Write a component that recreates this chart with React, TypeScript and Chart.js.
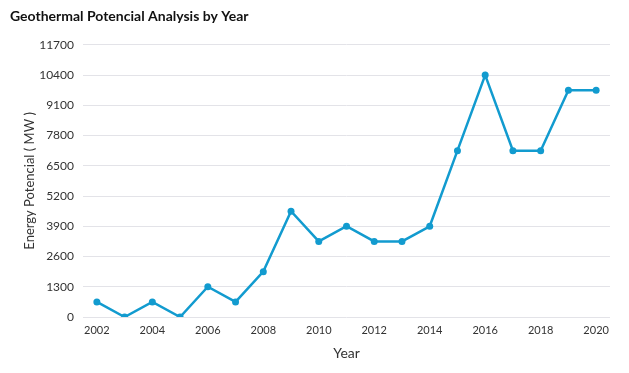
import React, { useEffect, useRef } from "react";
import { Chart, registerables } from "chart.js";

Chart.register(...registerables);

const years = ["2002","2003","2004","2005","2006","2007","2008","2009","2010","2011","2012","2013","2014","2015","2016","2017","2018","2019","2020"];
const potential = [650, 0, 650, 0, 1300, 650, 1950, 4550, 3250, 3900, 3250, 3250, 3900, 7150, 10400, 7150, 7150, 9750, 9750];
const yMin = 0;
const yMax = 11700;
const yStep = 1300;
const xTickLabels = ["2002","2004","2006","2008","2010","2012","2014","2016","2018","2020"];

const FONT = "Lato, 'Open Sans', sans-serif";
const LINE = "#129BCF";

export default function App() {
  const ref = useRef<HTMLCanvasElement | null>(null);
  useEffect(() => {
    document.body.style.margin = "0";
    const ctx = ref.current!;
    const chart = new Chart(ctx, {
      type: "line",
      data: {
        labels: years,
        datasets: [
          {
            label: "Energy Potencial",
            data: potential,
            borderColor: LINE,
            backgroundColor: LINE,
            borderWidth: 2.5,
            pointRadius: 3.5,
            pointBackgroundColor: LINE,
            pointBorderColor: LINE,
            pointBorderWidth: 0,
            tension: 0,
          },
        ],
      },
      options: {
        animation: false,
        responsive: false,
        maintainAspectRatio: false,
        layout: { padding: { left: 10, right: 19, top: 0, bottom: 0 } },
        plugins: {
          legend: { display: false },
          tooltip: { enabled: false },
          title: {
            display: true,
            text: "Geothermal Potencial Analysis by Year",
            align: "start",
            color: "#111",
            font: { family: FONT, size: 14, weight: "bold" },
            padding: { top: 8, bottom: 20 },
          },
        },
        scales: {
          x: {
            offset: true,
            grid: { display: false, drawTicks: false },
            border: { display: false },
            ticks: {
              color: "#333",
              font: { family: FONT, size: 11 },
              padding: 7,
              autoSkip: false,
              maxRotation: 0,
              callback: function (this: any, value: any, index: number) {
                const lab = years[index];
                return xTickLabels.includes(lab) ? lab : "";
              },
            },
            title: {
              display: true,
              text: "Year",
              color: "#333",
              font: { family: FONT, size: 14 },
              padding: { top: 0, bottom: 11 },
            },
            afterFit: (s: any) => {
              s.height = 56;
            },
          },
          y: {
            min: yMin,
            max: yMax,
            grid: { color: "#e3e3e8", lineWidth: 1, drawTicks: false },
            border: { display: false },
            ticks: {
              stepSize: yStep,
              color: "#333",
              font: { family: FONT, size: 12 },
              padding: 9,
              callback: (v: any) => String(v),
            },
            title: {
              display: true,
              text: "Energy Potencial ( MW )",
              color: "#333",
              font: { family: FONT, size: 13 },
              padding: { top: 12, bottom: 0 },
            },
            afterFit: (s: any) => {
              s.width = 73;
            },
          },
        },
      },
    });
    return () => chart.destroy();
  }, []);
  return (
    <div style={{ width: 629, height: 373 }}>
      <canvas ref={ref} width={629} height={373} style={{ display: "block" }} />
    </div>
  );
}
